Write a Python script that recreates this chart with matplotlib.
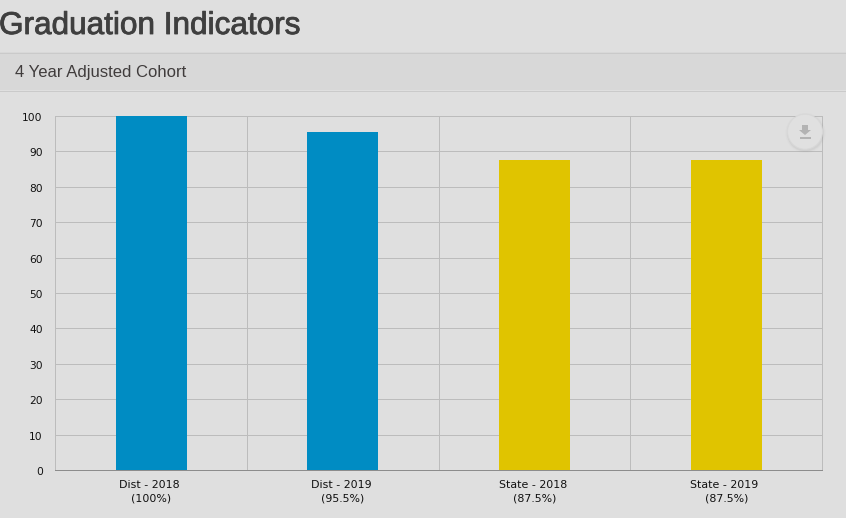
import matplotlib
matplotlib.use('Agg')
import matplotlib.pyplot as plt
import matplotlib.patheffects as pe
from matplotlib.patches import Rectangle, Circle, Polygon
from matplotlib.transforms import ScaledTranslation

categories = ['Dist - 2018 \n(100%)', 'Dist - 2019 \n(95.5%)', 'State - 2018 \n(87.5%)', 'State - 2019 \n(87.5%)']
values = [100, 95.5, 87.5, 87.5]
bar_colors = ['#008cc3', '#008cc3', '#e0c400', '#e0c400']
y_ticks = list(range(0, 101, 10))

W, H = 846, 518
BG = '#dfdfdf'
GRID = '#bcbcbc'
LW = 0.72  # one pixel at dpi 100

fig = plt.figure(figsize=(W / 100, H / 100), dpi=100, facecolor=BG)

# page background layer, pixel coordinates
bg = fig.add_axes([0, 0, 1, 1], zorder=0)
bg.set_xlim(0, W)
bg.set_ylim(H, 0)
bg.axis('off')
bg.add_patch(Rectangle((0, 52), W, 38, facecolor='#d8d8d8', edgecolor='none'))
bg.plot([0, W], [52.5, 52.5], color='#cacaca', lw=LW)
bg.plot([0, W], [90.5, 90.5], color='#cacaca', lw=LW)
title = bg.text(-1, 26, 'Graduation Indicators', fontsize=22.7, family='Liberation Sans',
                color='#3f3f3f', va='center', ha='left')
title.set_path_effects([pe.withStroke(linewidth=0.6, foreground='#3f3f3f')])
sub = bg.text(15, 72, '4 Year Adjusted Cohort', fontsize=12, family='Liberation Sans',
              color='#403c3c', va='center', ha='left')

# chart
left, right, top, bottom = 55.2, 822.2, 116, 470
ax = fig.add_axes([left / W, 1 - bottom / H, (right - left) / W, (bottom - top) / H], zorder=1)
ax.set_facecolor('none')
ax.bar(range(4), values, width=0.37, color=bar_colors, zorder=3)
ax.set_xlim(-0.5, 3.5)
ax.set_ylim(0, 100)
ax.set_yticks(y_ticks)
ax.set_xticks(range(4))
ax.set_xticklabels(categories, fontsize=7.95, family='DejaVu Sans', color='#111111', linespacing=1.42)
ax.tick_params(axis='y', length=0, pad=9, labelsize=7.7, labelcolor='#111111')
ax.tick_params(axis='x', length=0, pad=7.5)
down = ScaledTranslation(0, -1 / 100, fig.dpi_scale_trans)
for lab in ax.get_yticklabels():
    lab.set_transform(lab.get_transform() + down)
ax.grid(axis='y', color=GRID, lw=LW, zorder=1)
for x in [0.5, 1.5, 2.5]:
    ax.axvline(x, color=GRID, lw=LW, zorder=1)
for side in ['top', 'left', 'right']:
    ax.spines[side].set_color(GRID)
    ax.spines[side].set_linewidth(LW)
ax.spines['bottom'].set_color('#8c8c8c')
ax.spines['bottom'].set_linewidth(LW)

# download button over the chart
fg = fig.add_axes([0, 0, 1, 1], zorder=2)
fg.set_xlim(0, W)
fg.set_ylim(H, 0)
fg.axis('off')
for r, a in [(20, 0.03), (19, 0.05), (18.3, 0.07)]:
    fg.add_patch(Circle((805.5, 133), r, facecolor='#888888', edgecolor='none', alpha=a))
fg.add_patch(Circle((805, 131.7), 17.5, facecolor='#e0e0e0', edgecolor='#d8d8d8', lw=LW))
fg.add_patch(Polygon([(802, 125), (808, 125), (808, 130), (811, 130), (805, 135), (799, 130), (802, 130)],
                     facecolor='#b3b3b3', edgecolor='none'))
fg.add_patch(Rectangle((800, 137), 11, 2, facecolor='#b3b3b3', edgecolor='none'))

fig.savefig('out.png', dpi=100, facecolor=BG)
